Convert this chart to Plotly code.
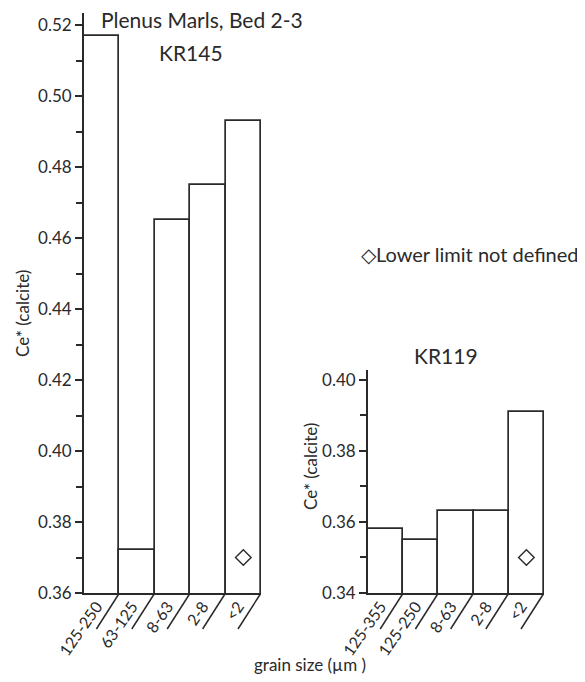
import plotly.graph_objects as go

# ---- data ----
kr145_sizes = ["125-250", "63-125", "8-63", "2-8", "<2"]
kr145_ce = [0.517, 0.372, 0.465, 0.475, 0.493]
kr145_lower_undefined = ["<2"]
kr145_marker_y = [0.37]

kr119_sizes = ["125-355", "125-250 ", "8-63 ", "2-8 ", "<2 "]
kr119_labels = ["125-355", "125-250", "8-63", "2-8", "<2"]
kr119_ce = [0.358, 0.355, 0.363, 0.363, 0.391]
kr119_lower_undefined = ["<2 "]
kr119_marker_y = [0.35]

# the page body has an 8px margin, so the figure is shrunk and coordinates offset
OFF = 8
W, H = 585 - OFF, 682 - OFF
INK = "#2a2a2a"
FONT = "Lato"

def px_x(p):
    return (p - OFF) / W

def px_y(p):
    return 1 - (p - OFF) / H

fig = go.Figure()

fig.add_trace(go.Bar(x=kr145_sizes, y=kr145_ce, marker=dict(color="white", line=dict(color=INK, width=1.7)),
                     xaxis="x", yaxis="y", showlegend=False))
fig.add_trace(go.Scatter(x=kr145_lower_undefined, y=kr145_marker_y, mode="markers",
                         marker=dict(symbol="diamond-open", size=12, color=INK, line=dict(width=1.4, color=INK)),
                         xaxis="x", yaxis="y", showlegend=False))
fig.add_trace(go.Bar(x=kr119_sizes, y=kr119_ce, marker=dict(color="white", line=dict(color=INK, width=1.7)),
                     xaxis="x2", yaxis="y2", showlegend=False))
fig.add_trace(go.Scatter(x=kr119_lower_undefined, y=kr119_marker_y, mode="markers",
                         marker=dict(symbol="diamond-open", size=12, color=INK, line=dict(width=1.4, color=INK)),
                         xaxis="x2", yaxis="y2", showlegend=False))

bottom = 593
left_x = (84, 261)
right_x = (368, 544)

common_x = dict(type="category", showline=True, linecolor=INK, linewidth=1.8, ticks="", showgrid=False,
                zeroline=False, tickangle=-55, automargin=False, ticklabelshift=-5, ticklabelstandoff=-4,
                tickfont=dict(family=FONT, size=16, color=INK), range=[-0.5, 4.5])
common_y = dict(showline=True, linecolor=INK, linewidth=1.8, ticks="outside", ticklen=7, tickwidth=1.5,
                tickcolor=INK, showgrid=False, zeroline=False, dtick=0.02, tickformat=".2f", automargin=False,
                tickfont=dict(family=FONT, size=17, color=INK),
                minor=dict(ticks="outside", dtick=0.01, ticklen=6, tickwidth=1.5, tickcolor=INK))

fig.update_layout(
    template="none",
    width=W, height=H, autosize=False,
    margin=dict(l=0, r=0, t=0, b=0, pad=0),
    paper_bgcolor="white", plot_bgcolor="white",
    bargap=0,
    xaxis=dict(common_x, domain=[px_x(left_x[0]), px_x(left_x[1])], anchor="y",
               tickvals=kr145_sizes, ticktext=kr145_sizes),
    yaxis=dict(common_y, domain=[px_y(bottom), px_y(13)], range=[0.36, 0.5234], tick0=0.36, anchor="x"),
    xaxis2=dict(common_x, domain=[px_x(right_x[0]), px_x(right_x[1])], anchor="y2",
                tickvals=kr119_sizes, ticktext=kr119_labels),
    yaxis2=dict(common_y, domain=[px_y(bottom), px_y(370)], range=[0.34, 0.4028], tick0=0.34, anchor="x2"),
)

# slanted separator lines below the category axes
shapes = []
for xref, xr in (("x", left_x), ("x2", right_x)):
    unit = (xr[1] - xr[0]) / 5
    for i in range(6):
        b = i - 0.5
        shapes.append(dict(type="line", xref=xref, yref="paper",
                           x0=b, y0=px_y(bottom), x1=b - 23 / unit, y1=px_y(bottom + 36),
                           line=dict(color=INK, width=1.5)))
fig.update_layout(shapes=shapes)

def ann(text, x, y, size, **kw):
    d = dict(text=text, x=px_x(x), y=px_y(y), xref="paper", yref="paper", showarrow=False,
             xanchor="center", yanchor="middle",
             font=dict(family=FONT, size=size, color=INK))
    d.update(kw)
    return d

fig.update_layout(annotations=[
    ann("Plenus Marls, Bed 2-3", 202, 20, 21),
    ann("KR145", 191, 52, 21),
    ann("KR119", 446, 356, 21),
    ann("◇Lower limit not defined", 470, 254, 20),
    ann("Ce* (calcite)", 22, 314, 17, textangle=-90),
    ann("Ce* (calcite)", 310, 467, 17, textangle=-90),
    ann("grain size (µm )", 310, 664, 17),
])

fig.write_html("out.html")
